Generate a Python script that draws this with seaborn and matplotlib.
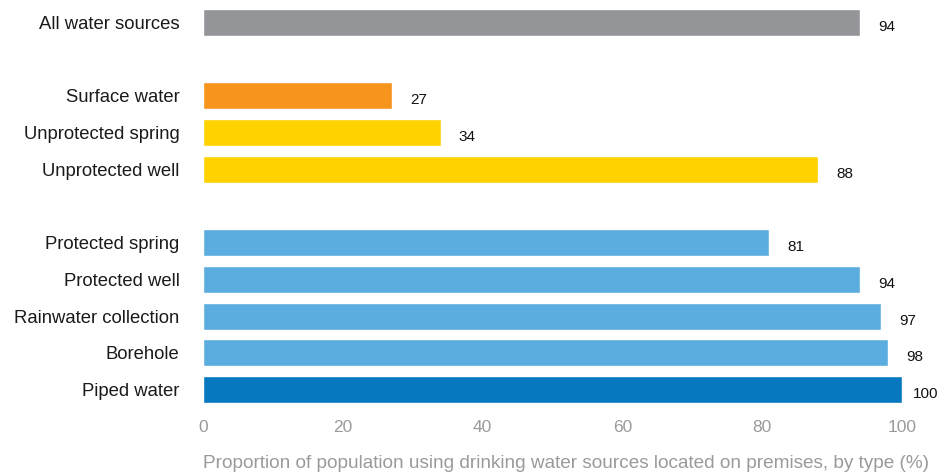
import matplotlib
matplotlib.use("Agg")
import matplotlib.pyplot as plt
import seaborn as sns
import pandas as pd

# Data
categories = ["All water sources",
              "Surface water", "Unprotected spring", "Unprotected well",
              "Protected spring", "Protected well", "Rainwater collection", "Borehole", "Piped water"]
values = [94, 27, 34, 88, 81, 94, 97, 98, 100]
groups = [0, 1, 1, 1, 2, 2, 2, 2, 2]
bar_colors = ["#939598", "#F7941E", "#FFD200", "#FFD200",
              "#5BACDF", "#5BACDF", "#5BACDF", "#5BACDF", "#0578BF"]
x_ticks = [0, 20, 40, 60, 80, 100]
x_label = "Proportion of population using drinking water sources located on premises, by type (%)"

# Row positions: one blank row between groups
positions = []
pos = 0
prev = groups[0]
for g in groups:
    if g != prev:
        pos += 1
        prev = g
    positions.append(pos)
    pos += 1

df = pd.DataFrame({"category": categories, "value": values, "pos": positions})

sns.set_theme(style="white")
plt.rcParams["font.family"] = ["Liberation Sans", "DejaVu Sans"]

W, H = 939, 473
fig = plt.figure(figsize=(W / 100, H / 100), dpi=100)
ax = fig.add_axes([203 / W, 1 - 407.9 / H, (902 - 203) / W, (407.9 - 4.1) / H])

sns.barplot(data=df, x="value", y="pos", hue="category", palette=dict(zip(categories, bar_colors)),
            orient="h", native_scale=True, width=0.735, legend=False, ax=ax, saturation=1)

ax.set_xlim(0, 100)
ax.set_ylim(max(positions) + 0.5, -0.5)
ax.set_yticks(positions)
ax.set_yticklabels(categories, fontsize=13.3, color="#1a1a1a")
ax.set_xticks(x_ticks)
ax.set_xticklabels([str(t) for t in x_ticks], fontsize=12.5, color="#9a9a9a")
ax.tick_params(axis="both", length=0)
ax.tick_params(axis="x", pad=9)
ax.tick_params(axis="y", pad=17)
ax.set_xlabel(x_label, fontsize=13.65, color="#9a9a9a", labelpad=14, loc="left")
ax.set_ylabel("")
for s in ax.spines.values():
    s.set_visible(False)

fig.canvas.draw()
renderer = fig.canvas.get_renderer()
for v, p in zip(values, positions):
    t = ax.annotate(str(v), xy=(v, p), xytext=(13, -3.3), textcoords="offset points",
                    ha="left", va="center", fontsize=11, color="#111111", annotation_clip=False)
    bb = t.get_window_extent(renderer)
    if bb.x1 > W - 1:
        shift_pt = (bb.x1 - (W - 1)) * 72 / 100
        t.set_position((13 - shift_pt, -3.3))

fig.savefig("out.png", dpi=100)
